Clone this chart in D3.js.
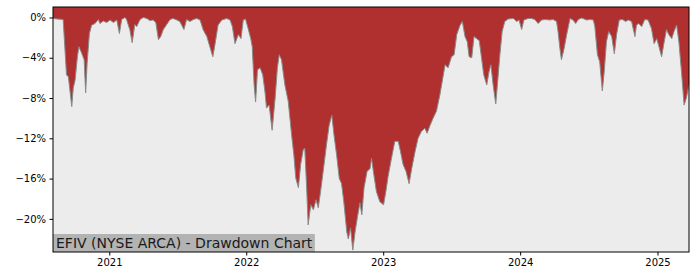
<!DOCTYPE html>
<html>
<head>
<meta charset="utf-8">
<script src="https://cdn.jsdelivr.net/npm/d3@7"></script>
<style>
  body { margin: 0; background: #fff; }
  svg { display: block; font-family: "DejaVu Sans", sans-serif; }
  .axis path, .axis line { stroke: #000; }
  .axis text { fill: #000; font-size: 10px; font-family: "DejaVu Sans", sans-serif; }
</style>
</head>
<body>
<div id="chart"></div>
<script>
// Drawdown values (%), with their dates.
const dates = [
  '2020-08-04','2020-08-15','2020-08-31','2020-09-09','2020-09-14','2020-09-18','2020-09-23','2020-09-27',
  '2020-10-02','2020-10-08','2020-10-12','2020-10-19','2020-10-26','2020-10-30','2020-11-03','2020-11-09',
  '2020-11-15','2020-11-24','2020-12-03','2020-12-07','2020-12-16','2020-12-25','2021-01-03','2021-01-12',
  '2021-01-21','2021-01-28','2021-02-03','2021-02-12','2021-02-16','2021-02-25','2021-03-03','2021-03-10',
  '2021-03-15','2021-03-24','2021-04-02','2021-04-11','2021-04-19','2021-04-28','2021-05-05','2021-05-12',
  '2021-05-18','2021-05-25','2021-06-03','2021-06-12','2021-06-20','2021-06-30','2021-07-08','2021-07-19',
  '2021-07-26','2021-08-04','2021-08-13','2021-08-22','2021-08-31','2021-09-08','2021-09-18','2021-09-26',
  '2021-10-04','2021-10-10','2021-10-18','2021-10-28','2021-11-10','2021-11-19','2021-11-25','2021-12-02',
  '2021-12-11','2021-12-18','2021-12-24','2021-12-30','2022-01-06','2022-01-13','2022-01-17','2022-01-22',
  '2022-01-26','2022-01-31','2022-02-07','2022-02-14','2022-02-20','2022-02-24','2022-03-03','2022-03-11',
  '2022-03-19','2022-03-25','2022-03-30','2022-04-05','2022-04-14','2022-04-23','2022-05-02','2022-05-08',
  '2022-05-13','2022-05-20','2022-05-26','2022-06-02','2022-06-06','2022-06-11','2022-06-15','2022-06-22',
  '2022-06-29','2022-07-06','2022-07-12','2022-07-18','2022-07-25','2022-08-03','2022-08-10','2022-08-17',
  '2022-08-23','2022-08-30','2022-09-06','2022-09-12','2022-09-18','2022-09-26','2022-09-30','2022-10-06',
  '2022-10-12','2022-10-18','2022-10-24','2022-10-31','2022-11-05','2022-11-11','2022-11-19','2022-11-27',
  '2022-12-01','2022-12-07','2022-12-14','2022-12-23','2023-01-02','2023-01-08','2023-01-14','2023-01-23',
  '2023-02-01','2023-02-10','2023-02-16','2023-02-23','2023-03-03','2023-03-11','2023-03-18','2023-03-27',
  '2023-04-04','2023-04-13','2023-04-22','2023-04-28','2023-05-06','2023-05-14','2023-05-23','2023-06-01',
  '2023-06-15','2023-06-23','2023-07-02','2023-07-09','2023-07-16','2023-07-25','2023-07-31','2023-08-07',
  '2023-08-13','2023-08-18','2023-08-25','2023-08-31','2023-09-07','2023-09-14','2023-09-20','2023-09-26',
  '2023-10-04','2023-10-10','2023-10-15','2023-10-21','2023-10-28','2023-11-02','2023-11-08','2023-11-14',
  '2023-11-21','2023-11-30','2023-12-14','2023-12-23','2023-12-29','2024-01-05','2024-01-11','2024-01-22',
  '2024-01-31','2024-02-09','2024-02-18','2024-02-27','2024-03-07','2024-03-20','2024-03-29','2024-04-07',
  '2024-04-11','2024-04-16','2024-04-20','2024-04-27','2024-05-04','2024-05-13','2024-05-21','2024-05-28',
  '2024-06-04','2024-06-13','2024-06-26','2024-07-05','2024-07-14','2024-07-18','2024-07-25','2024-07-31',
  '2024-08-07','2024-08-12','2024-08-18','2024-08-24','2024-09-01','2024-09-08','2024-09-14','2024-09-21',
  '2024-09-30','2024-10-08','2024-10-15','2024-10-24','2024-11-02','2024-11-06','2024-11-12','2024-11-20',
  '2024-11-28','2024-12-07','2024-12-16','2024-12-23','2024-12-30','2025-01-05','2025-01-12','2025-01-18',
  '2025-01-25','2025-01-31','2025-02-08','2025-02-14','2025-02-21','2025-02-27','2025-03-06','2025-03-13',
  '2025-03-19','2025-03-26'
];

const drawdown = [
  -0.1, -0.15, -0.2, -5.7, -5.9, -7.2, -8.85, -7.0,
  -6.2, -3.9, -2.9, -3.5, -4.2, -7.5, -4.5, -1.6,
  -0.76, -0.6, -0.2, -0.6, -0.35, -0.5, -0.25, -0.5,
  -0.25, -1.6, -0.2, 0, -0.2, -1.25, -2.5, -0.7,
  -0.9, -0.2, 0, -0.1, -0.3, -0.25, -0.5, -2.2,
  -1.9, -1.2, -0.7, -0.2, -0.1, -0.25, -0.4, -1.2,
  -0.2, -0.4, -0.2, -0.1, -0.25, -1.2, -1.9, -2.9,
  -3.9, -2.6, -0.75, -0.25, -0.1, -0.25, -0.9, -2.6,
  -1.7, -2.1, -0.25, -0.15, -1.1, -2.1, -2.9, -6.7,
  -8.4, -5.2, -5.0, -5.7, -7.4, -9.0, -8.7, -11.2,
  -8.0, -5.0, -3.7, -4.2, -6.7, -8.35, -11.7, -13.7,
  -15.95, -16.9, -14.6, -13.1, -13.0, -16.9, -20.6, -18.6,
  -19.1, -18.1, -18.9, -17.3, -15.3, -12.6, -10.7, -9.7,
  -11.7, -13.7, -16.0, -16.5, -18.3, -21.3, -22.0, -20.9,
  -23.1, -21.3, -19.9, -18.4, -19.6, -16.9, -15.3, -15.0,
  -14.0, -15.6, -17.3, -18.3, -18.6, -17.3, -15.8, -14.0,
  -12.3, -12.3, -13.3, -14.6, -15.3, -16.5, -15.0, -13.3,
  -12.0, -11.3, -11.0, -11.5, -10.7, -10.0, -9.3, -7.7,
  -4.7, -5.0, -3.9, -3.7, -1.7, -0.75, -0.4, -1.9,
  -2.4, -3.9, -4.0, -1.9, -2.1, -2.3, -4.0, -5.7,
  -6.7, -5.4, -4.7, -6.7, -8.6, -6.4, -3.7, -1.4,
  -0.4, -0.15, -0.1, -0.4, -0.25, -1.2, -0.25, -0.1,
  -0.1, -0.2, -0.6, -0.25, -0.2, -0.25, -0.2, -0.4,
  -1.4, -3.1, -4.2, -3.1, -1.7, -0.1, -0.25, -0.6,
  -0.2, -0.05, -0.25, -0.2, -0.25, -0.9, -3.7, -4.4,
  -7.3, -5.4, -2.4, -1.4, -1.9, -3.6, -1.7, -0.25,
  -0.2, -0.4, -0.25, -0.4, -1.9, -0.75, -0.6, -0.9,
  -0.2, -0.25, -1.1, -2.6, -2.1, -2.9, -3.9, -2.6,
  -1.2, -1.7, -2.1, -1.4, -0.75, -2.4, -5.4, -8.7,
  -8.0, -6.7
];

const yTicks = [0, -4, -8, -12, -16, -20];
const xTickYears = ['2021', '2022', '2023', '2024', '2025'];
const title = 'EFIV (NYSE ARCA) - Drawdown Chart';

const parseDate = d3.timeParse('%Y-%m-%d');
let data = [];
for (let i = 0; i < dates.length; i++)
{
  data.push({'date': parseDate(dates[i]), 'dd': drawdown[i]});
}

const width = 700;
const height = 280;
const margin = {top: 7, right: 11, bottom: 28, left: 53};

const svg = d3.select('#chart')
  .append('svg')
  .attr('width', width)
  .attr('height', height);

const xScale = d3.scaleTime()
  .domain([data[0].date, data[data.length - 1].date])
  .range([margin.left, width - margin.right]);

const yScale = d3.scaleLinear()
  .domain([-23.29, 1.04])
  .range([height - margin.bottom, margin.top]);

// Plot background.
svg.append('rect')
  .attr('x', margin.left)
  .attr('y', margin.top)
  .attr('width', width - margin.left - margin.right)
  .attr('height', height - margin.top - margin.bottom)
  .attr('fill', '#ececec');

svg.append('clipPath')
  .attr('id', 'clip')
  .append('rect')
  .attr('x', margin.left)
  .attr('y', margin.top)
  .attr('width', width - margin.left - margin.right)
  .attr('height', height - margin.top - margin.bottom);

// Red fill between the drawdown line and the top of the plot.
const area = d3.area()
  .x((d) => xScale(d.date))
  .y0(margin.top)
  .y1((d) => yScale(d.dd));

svg.append('path')
  .datum(data)
  .attr('clip-path', 'url(#clip)')
  .attr('fill', '#b03030')
  .attr('d', area);

const line = d3.line()
  .x((d) => xScale(d.date))
  .y((d) => yScale(d.dd));

svg.append('path')
  .datum(data)
  .attr('clip-path', 'url(#clip)')
  .attr('fill', 'none')
  .attr('stroke', '#8a8a8a')
  .attr('stroke-width', 1)
  .attr('d', line);

// Axes.
const xAxis = d3.axisBottom(xScale)
  .tickValues(xTickYears.map((y) => parseDate(y + '-01-01')))
  .tickFormat(d3.timeFormat('%Y'))
  .tickSizeOuter(0)
  .tickSize(3.5)
  .tickPadding(3.5);

const yAxis = d3.axisLeft(yScale)
  .tickValues(yTicks)
  .tickFormat((d) => (d < 0 ? '\u2212' : '') + Math.abs(d) + '%')
  .tickSizeOuter(0)
  .tickSize(3.5)
  .tickPadding(3.5);

svg.append('g')
  .attr('class', 'axis')
  .attr('transform', 'translate(0, ' + (height - margin.bottom) + ')')
  .call(xAxis)
  .select('.domain').remove();

svg.append('g')
  .attr('class', 'axis')
  .attr('transform', `translate(${margin.left}, 0)`)
  .call(yAxis)
  .select('.domain').remove();

// Title box in the lower-left corner.
const label = svg.append('g');
const labelText = label.append('text')
  .attr('x', margin.left + 3)
  .attr('y', height - margin.bottom - 4.5)
  .style('font-size', '14px')
  .style('font-family', '"DejaVu Sans", sans-serif')
  .attr('fill', '#1a1a1a')
  .text(title);
const bb = labelText.node().getBBox();
label.insert('rect', 'text')
  .attr('x', margin.left)
  .attr('y', height - margin.bottom - 18)
  .attr('width', bb.width + 5)
  .attr('height', 18)
  .attr('fill', '#b3b3b3');

// Frame.
svg.append('rect')
  .attr('x', margin.left)
  .attr('y', margin.top)
  .attr('width', width - margin.left - margin.right)
  .attr('height', height - margin.top - margin.bottom)
  .attr('fill', 'none')
  .attr('stroke', '#000')
  .attr('stroke-width', 1);
</script>
</body>
</html>
